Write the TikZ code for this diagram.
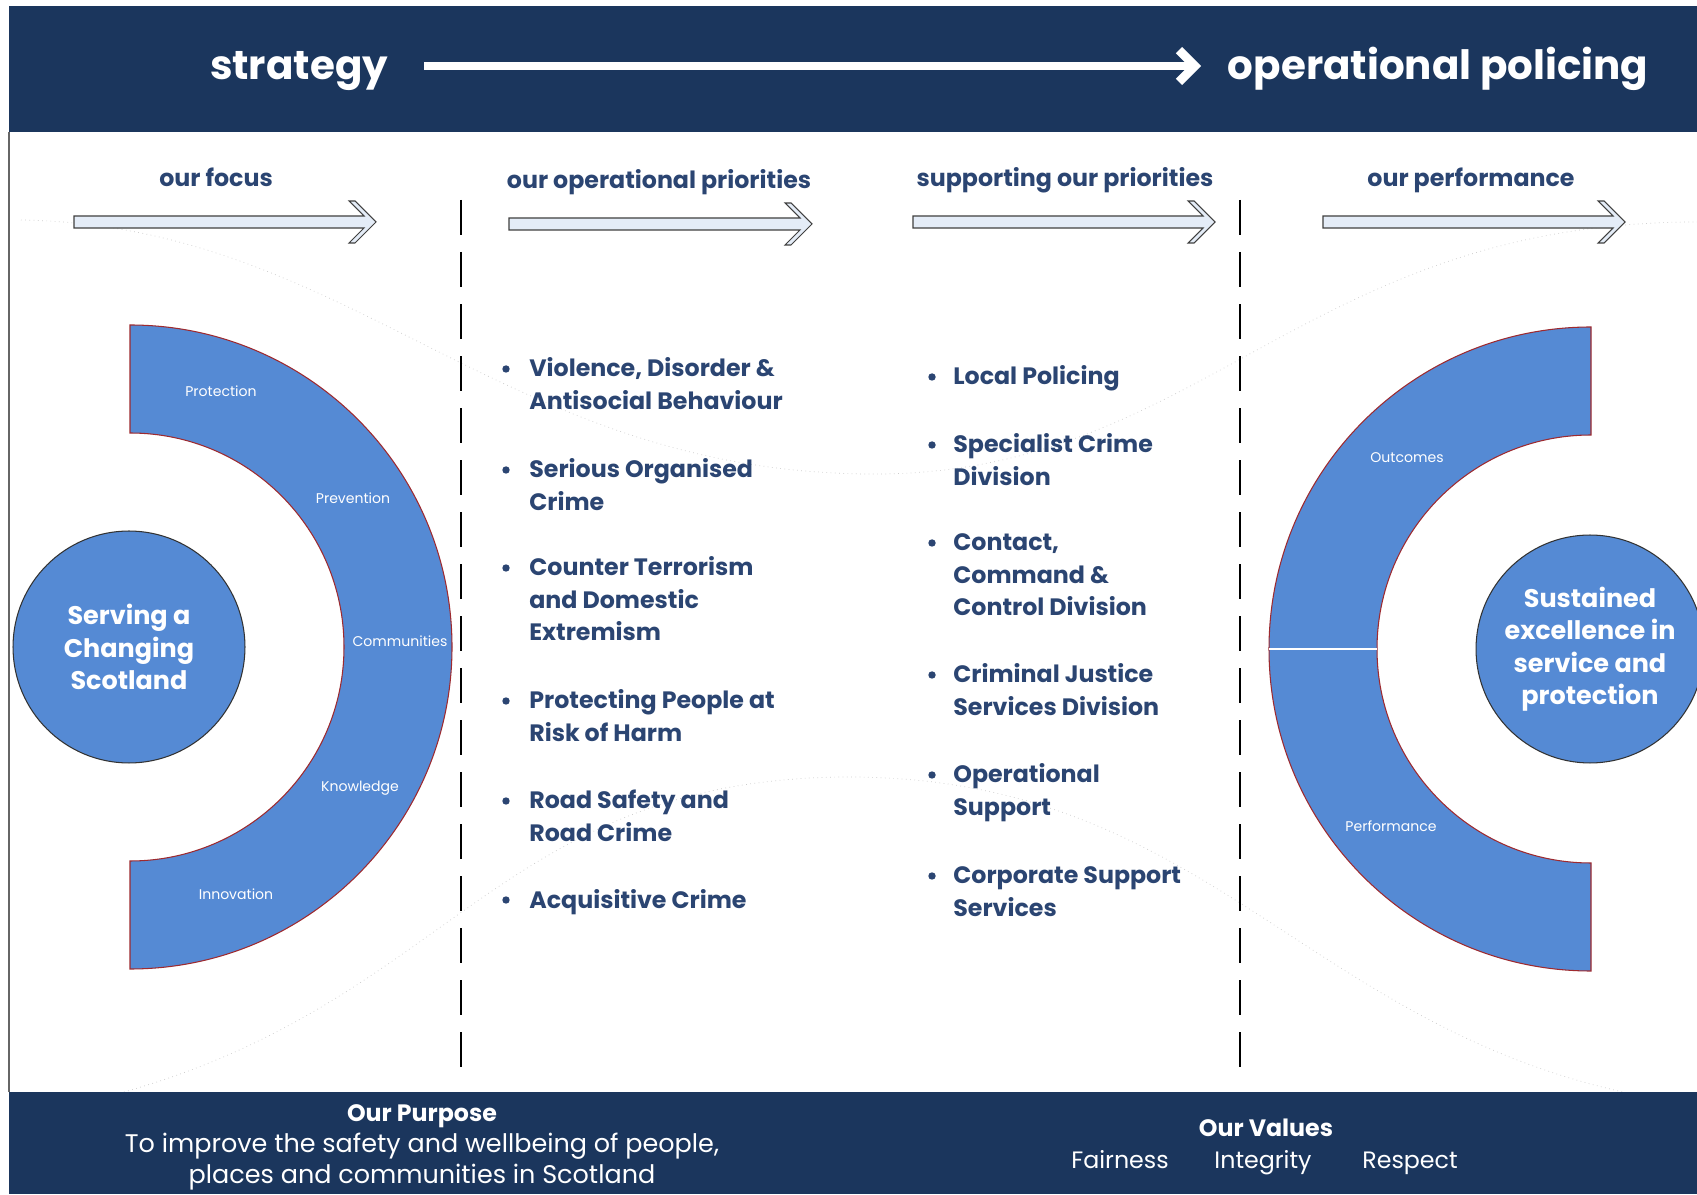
\documentclass[tikz,border=0pt]{standalone}
\usepackage{fontspec}
\setmainfont{Poppins}
\usetikzlibrary{arrows.meta}

\definecolor{navy}{HTML}{1B365D}
\definecolor{inktext}{HTML}{2B4572}
\definecolor{ringblue}{HTML}{558AD4}
\definecolor{ringedge}{HTML}{9E2A2F}
\definecolor{arrowfill}{HTML}{E4ECF7}

\begin{document}
\begin{tikzpicture}[x=0.02cm,y=0.02cm,
		title/.style={text=white,anchor=base,font=\bfseries\fontsize{23}{27}\selectfont},
		heading/.style={text=inktext,anchor=base,font=\bfseries\fontsize{13.5}{16}\selectfont},
		priority/.style={text=inktext,anchor=base west,inner sep=0pt,align=left,font=\bfseries\fontsize{13.5}{18.5}\selectfont},
		blockarrow/.style={fill=arrowfill,draw=black!75,line width=0.6pt,line join=miter},
		ring/.style={fill=ringblue,draw=ringedge,line width=0.6pt},
		hub/.style={circle,fill=ringblue,draw=black!80,line width=0.6pt,text=white,align=center,inner sep=0pt,font=\bfseries\fontsize{14.5}{18.5}\selectfont},
		segment/.style={text=white,font=\fontsize{8}{10}\selectfont},
		divider/.style={black,line width=1.4pt,dash pattern=on 19.9pt off 9.7pt},
		footnote/.style={text=white,anchor=base,align=center,font=\fontsize{13.5}{17.5}\selectfont},
		swoosh/.style={draw=black!20,dotted,line width=0.4pt}]
	\useasboundingbox (0,0) rectangle (1697,1194);
	\fill[white] (0,0) rectangle (1697,1194);

	% faint swooshes behind everything
	\draw[swoosh] (21,974) .. controls (350,969) and (500,724) .. (866,720) .. controls (1200,716) and (1300,972) .. (1697,972);
	\draw[swoosh] (124,102) .. controls (450,194) and (500,414) .. (844,417) .. controls (1200,419) and (1300,174) .. (1623,102);

	% banner and footer
	\fill[navy] (9,1062) rectangle (1697,1188);
	\fill[navy] (9,0) rectangle (1697,102);
	\draw[black!60,line width=0.6pt] (9,102) -- (9,1062);

	\node[title] (strategy) at (299,1114) {strategy};
	\node[title] (policing) at (1438,1114) {operational policing};
	\coordinate (flowstart) at (424,1128);
	\coordinate (flowend) at (1201,1128);
	\draw[white,line width=5pt,-{Straight Barb[length=9pt,width=18pt]}] (flowstart) -- (flowend);

	% column headings
	\node[heading] (focus) at (216,1007) {our focus};
	\node[heading] (priorities) at (659,1005) {our operational priorities};
	\node[heading] (supporting) at (1065,1007) {supporting our priorities};
	\node[heading] (performance) at (1471,1007) {our performance};

	\foreach \from/\tip/\yy in {74/376/972, 509/812/970, 913/1215/972, 1323/1625/972}
		\draw[blockarrow] (\from,\yy+6) -- (\tip-12,\yy+6) -- (\tip-27,\yy+21) -- (\tip-21,\yy+21) -- (\tip,\yy)
			-- (\tip-21,\yy-21) -- (\tip-27,\yy-21) -- (\tip-12,\yy-6) -- (\from,\yy-6) -- cycle;

	% dashed column dividers
	\draw[divider] (461,994) -- (461,117);
	\draw[divider] (1240,994) -- (1240,117);

	% left ring
	\draw[ring] (130,869) arc[start angle=90,end angle=-90,radius=322] -- (130,333)
		arc[start angle=-90,end angle=90,radius=214] -- cycle;
	\node[segment] (protection) at (221,803) {Protection};
	\node[segment] (prevention) at (353,696) {Prevention};
	\node[segment] (communities) at (400,553) {Communities};
	\node[segment] (knowledge) at (360,406) {Knowledge};
	\node[segment] (innovation) at (236,300) {Innovation};
	\node[hub,minimum size=4.64cm] (serving) at (129,547) {Serving a\\Changing\\Scotland};

	% right ring
	\draw[ring] (1591,867) arc[start angle=90,end angle=270,radius=322] -- (1591,331)
		arc[start angle=270,end angle=90,radius=214] -- cycle;
	\draw[white,line width=0.8pt] (1269,545) -- (1377,545);
	\node[segment] (outcomes) at (1407,736) {Outcomes};
	\node[segment] (performed) at (1391,368) {Performance};
	\node[hub,minimum size=4.56cm] (sustained) at (1590,545) {Sustained\\excellence in\\service and\\protection};

	% operational priorities (first baseline, number of lines, text)
	\foreach \yy/\n/\txt [count=\i] in {817/2/{Violence, Disorder \&\\Antisocial Behaviour},
			716/2/{Serious Organised\\Crime},
			618/3/{Counter Terrorism\\and Domestic\\Extremism},
			485/2/{Protecting People at\\Risk of Harm},
			385/2/{Road Safety and\\Road Crime},
			286/1/{Acquisitive Crime}}
	{
		\node[priority] (operational\i) at (529,\yy-\n*32.5+32.5) {\txt};
		\fill[inktext] (506,\yy+8) circle (3.7);
	}

	% supporting units
	\foreach \yy/\n/\txt [count=\i] in {809/1/{Local Policing},
			741/2/{Specialist Crime\\Division},
			643/3/{Contact,\\Command \&\\Control Division},
			511/2/{Criminal Justice\\Services Division},
			411/2/{Operational\\Support},
			310/2/{Corporate Support\\Services}}
	{
		\node[priority] (support\i) at (953,\yy-\n*32.5+32.5) {\txt};
		\fill[inktext] (932,\yy+8) circle (3.7);
	}

	% purpose and values
	\node[footnote,font=\fontsize{14.5}{17.5}\selectfont] (purpose) at (422,11) {{\bfseries\fontsize{13.5}{17.5}\selectfont Our Purpose}\\To improve the safety and wellbeing of people,\\places and communities in Scotland};
	\node[footnote] (values) at (1266,58) {\bfseries Our Values};
	\node[footnote] (fairness) at (1120,26) {Fairness};
	\node[footnote] (integrity) at (1263,26) {Integrity};
	\node[footnote] (respect) at (1410,26) {Respect};
\end{tikzpicture}
\end{document}
